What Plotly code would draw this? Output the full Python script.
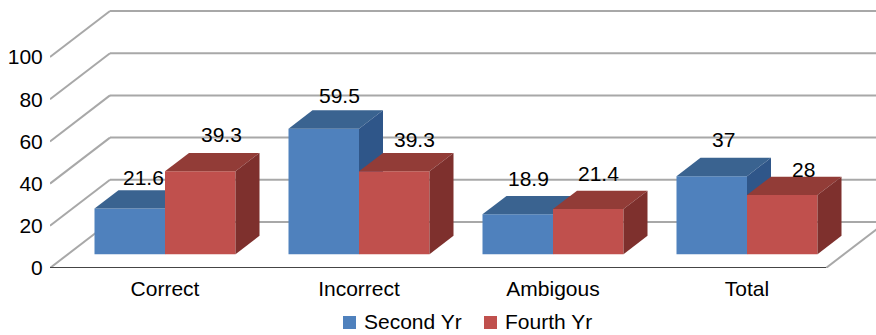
import plotly.graph_objects as go

categories = ["Correct", "Incorrect", "Ambigous", "Total"]
second_yr = [21.6, 59.5, 18.9, 37]
fourth_yr = [39.3, 39.3, 21.4, 28]
value_ticks = [0, 20, 40, 60, 80, 100]

FONT = "Liberation Sans, Arial, sans-serif"
FONT_SIZE = 21
WIDTH, HEIGHT = 876, 335
LEFT, BOTTOM = 50, 67
PX_PER_CAT, PX_PER_VALUE = 194.0, 2.11
COLOR_SECOND, COLOR_FOURTH = "#4F81BD", "#C0504D"

# Oblique projection: full floor depth expressed in axis units
DEPTH_X = 60 / PX_PER_CAT
DEPTH_Y = 46 / PX_PER_VALUE
BAR_FRONT, BAR_BACK = 0.30, 0.70
BAR_W = 70.5 / PX_PER_CAT

x_range = [0, (WIDTH - LEFT) / PX_PER_CAT]
y_range = [0, (HEIGHT - BOTTOM) / PX_PER_VALUE]


def project(u, v, d):
    return u + d * DEPTH_X, v + d * DEPTH_Y


def add_series(fig, name, values, first_edge, xa, ya, front, top, side):
    """One series of 3D-looking columns: bar front plus top and side faces."""
    lefts = [i + first_edge for i in range(len(values))]
    fx = [project(u + BAR_W / 2, 0, BAR_FRONT)[0] for u in lefts]
    base = project(0, 0, BAR_FRONT)[1]
    fig.add_trace(go.Bar(
        x=fx, y=values, base=base, width=BAR_W, name=name, xaxis=xa, yaxis=ya,
        marker=dict(color=front, line=dict(width=0)), hoverinfo="skip",
    ))
    for u, v in zip(lefts, values):
        a = project(u, v, BAR_FRONT)
        b = project(u + BAR_W, v, BAR_FRONT)
        c = project(u + BAR_W, v, BAR_BACK)
        e = project(u, v, BAR_BACK)
        g = project(u + BAR_W, 0, BAR_BACK)
        h = project(u + BAR_W, 0, BAR_FRONT)
        for pts, col in (([a, b, c, e, a], top), ([b, c, g, h, b], side)):
            fig.add_trace(go.Scatter(
                x=[p[0] for p in pts], y=[p[1] for p in pts], mode="lines",
                fill="toself", fillcolor=col, line=dict(width=0), xaxis=xa, yaxis=ya,
                showlegend=False, hoverinfo="skip",
            ))


fig = go.Figure()
add_series(fig, "Second Yr", second_yr, 0.5 - BAR_W, "x", "y", COLOR_SECOND, "#3A6390", "#2F5689")
add_series(fig, "Fourth Yr", fourth_yr, 0.5, "x2", "y2", COLOR_FOURTH, "#923C37", "#7E302D")

# Walls and floor: each tick is a line along the left wall and the back wall
shapes = []
GRID = dict(color="#A8A8A8", width=2)
for t in value_ticks:
    x0, y0 = project(0, t, 0)
    x1, y1 = project(0, t, 1)
    x2, y2 = project(4, t, 1)
    shapes.append(dict(type="line", xref="x", yref="y", x0=x0, y0=y0, x1=x1, y1=y1, layer="below", line=GRID))
    shapes.append(dict(type="line", xref="x", yref="y", x0=x1, y0=y1, x1=x2, y1=y2, layer="below", line=GRID))
x0, y0 = project(4, 0, 0)
x1, y1 = project(4, 0, 1)
shapes.append(dict(type="line", xref="x", yref="y", x0=x0, y0=y0, x1=x1, y1=y1, layer="below", line=GRID))
shapes.append(dict(type="line", xref="x", yref="y", x0=0, y0=0, x1=4, y1=0, layer="below",
                   line=dict(color="#454545", width=2)))

# Value labels sit just behind each column top, nudged off the neighbouring faces
label_shift_second = [(-10.5, 13), (-8.5, 14.5), (-13, 17.6), (-12, 18)]
label_shift_fourth = [(-3, 18.5), (-3.5, 13), (-13.5, 17), (-3, 7.4)]
annotations = []
for values, first_edge, shifts in (
    (second_yr, 0.5 - BAR_W, label_shift_second),
    (fourth_yr, 0.5, label_shift_fourth),
):
    for i, (v, (sx, sy)) in enumerate(zip(values, shifts)):
        px, py = project(i + first_edge + BAR_W / 2, v, BAR_BACK)
        annotations.append(dict(
            x=px, y=py, xref="x", yref="y", text=str(v), showarrow=False,
            xanchor="center", yanchor="middle", xshift=sx, yshift=sy,
            font=dict(family=FONT, size=FONT_SIZE, color="#000000"),
        ))

# Compact key under the plot, written with paper coordinates
plot_w, plot_h = WIDTH - LEFT, HEIGHT - BOTTOM
for name, color, swatch_px, text_px in (
    ("Second Yr", COLOR_SECOND, 343, 364),
    ("Fourth Yr", COLOR_FOURTH, 484, 505),
):
    shapes.append(dict(
        type="rect", xref="paper", yref="paper",
        x0=(swatch_px - LEFT) / plot_w, x1=(swatch_px + 13 - LEFT) / plot_w,
        y0=(plot_h - 316) / plot_h, y1=(plot_h - 329) / plot_h,
        fillcolor=color, line=dict(width=0),
    ))
    annotations.append(dict(
        xref="paper", yref="paper", x=(text_px - LEFT) / plot_w, y=(plot_h - 321) / plot_h,
        text=name, showarrow=False, xanchor="left", yanchor="middle",
        xshift=-2, font=dict(family=FONT, size=FONT_SIZE, color="#000000"),
    ))

fig.update_layout(
    width=WIDTH, height=HEIGHT,
    margin=dict(l=LEFT, r=0, t=0, b=BOTTOM, pad=0, autoexpand=False),
    paper_bgcolor="white", plot_bgcolor="white",
    barmode="overlay", shapes=shapes, annotations=annotations,
    font=dict(family=FONT, size=FONT_SIZE, color="#000000"),
    showlegend=False,
    xaxis=dict(
        range=x_range, showgrid=False, zeroline=False, showline=False,
        ticks="outside", ticklen=2, tickcolor="rgba(0,0,0,0)",
        tickmode="array",
        tickvals=[project(i + 0.5, 0, BAR_FRONT)[0] for i in range(len(categories))],
        ticktext=categories, tickangle=0,
    ),
    yaxis=dict(
        range=y_range, showgrid=False, zeroline=False, showline=False,
        ticks="outside", ticklen=2, tickcolor="rgba(0,0,0,0)",
        tickmode="array", tickvals=value_ticks,
    ),
    xaxis2=dict(range=x_range, overlaying="x", visible=False),
    yaxis2=dict(range=y_range, overlaying="y", visible=False),
)

fig.write_html("out.html", config=dict(displayModeBar=False))
